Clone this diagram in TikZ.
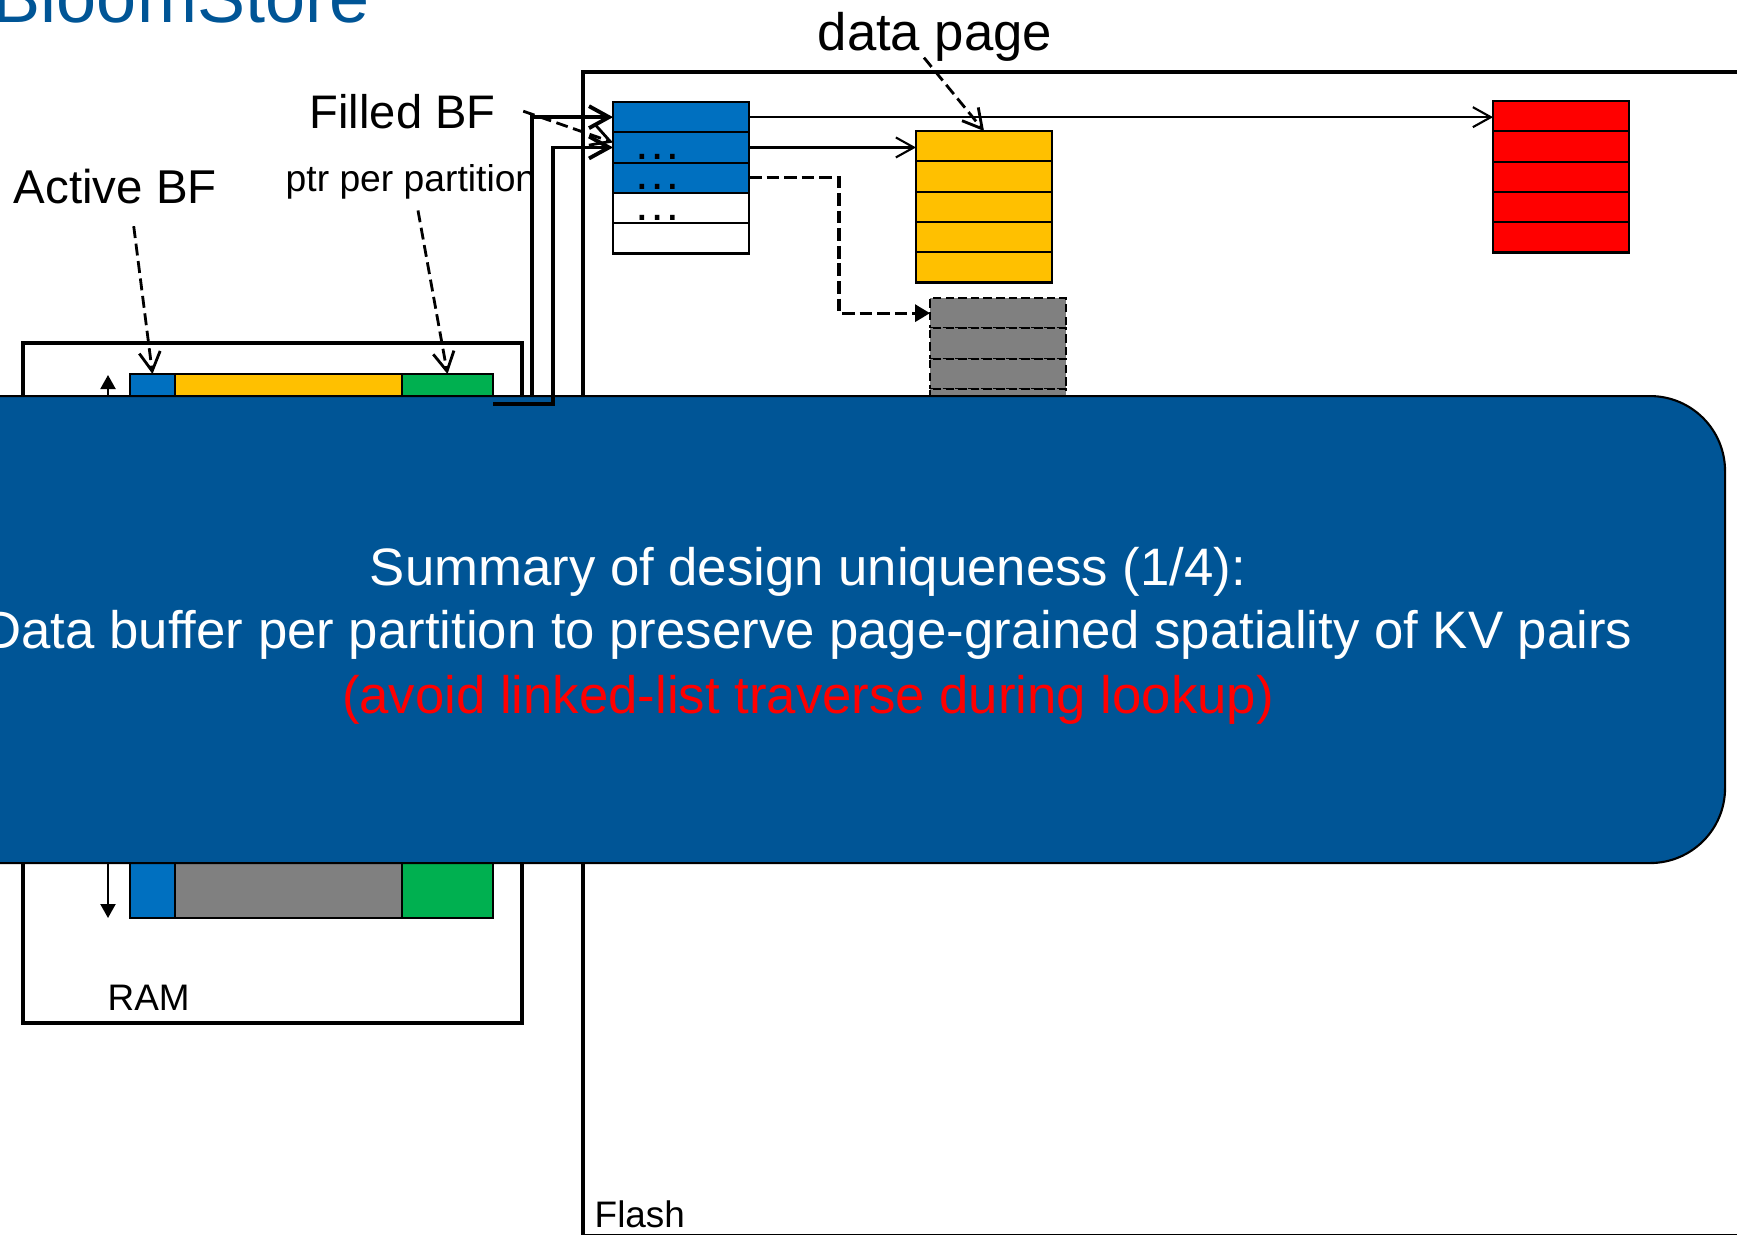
\documentclass[tikz,border=0pt]{standalone}
\usepackage{fontspec}
\setmainfont{Liberation Sans}
\usepackage{tikz}
\usetikzlibrary{
    arrows.meta,
    positioning,
    calc
}
\definecolor{IdxBlue}{RGB}{0,112,192}
\definecolor{PageYellow}{RGB}{255,192,0}
\definecolor{PtrGreen}{RGB}{0,176,80}
\definecolor{PageRed}{RGB}{255,0,0}
\definecolor{PageGray}{RGB}{128,128,128}
\definecolor{SlideBlue}{RGB}{0,85,150}
\tikzset{
  cell/.style    = {draw, line width=0.6pt, minimum width=13.6mm,
                    minimum height=3.03mm, inner sep=0pt, outer sep=0pt},
  dcell/.style   = {cell, fill=PageGray, dash pattern=on 2.4pt off 1.2pt},
  barcell/.style = {draw, line width=0.4pt, minimum height=6mm,
                    inner sep=0pt, outer sep=0pt},
  memline/.style = {line width=1.4pt},
  lbl/.style     = {anchor=base west, inner sep=0pt},
  ptr/.style     = {-{Straight Barb[length=2mm,width=2.2mm]}, line width=1.1pt},
  link/.style    = {-{Straight Barb[length=1.8mm,width=2mm]}, line width=0.6pt},
  note/.style    = {-{Straight Barb[length=1.9mm,width=2.1mm]}, line width=0.8pt,
                    dash pattern=on 3.4pt off 1.6pt}
}

\begin{document}
\begin{tikzpicture}[x=0.1mm, y=-0.1mm]
\useasboundingbox (0,0) rectangle (1737,1234);
\clip (0,0) rectangle (1737,1234);

% title
\node[lbl, anchor=base east, text=SlideBlue, font=\fontsize{20.5}{24}\selectfont]
    (title) at (370,22) {BloomStore};

% RAM side
\draw[memline] (23,343) rectangle (522,1023);
\node[lbl, font=\fontsize{10.5}{12}\selectfont] (ram) at (107,1010) {RAM};
\node[barcell, fill=IdxBlue, minimum width=4.5mm, anchor=north west] (actA) at (130,374) {};
\node[barcell, fill=PageYellow, minimum width=22.7mm, right=0pt of actA] (bufA) {};
\node[barcell, fill=PtrGreen, minimum width=9.1mm, right=0pt of bufA] (ptrA) {};
\node[barcell, fill=IdxBlue, minimum width=4.5mm, anchor=south west] (actB) at (130,918) {};
\node[barcell, fill=PageGray, minimum width=22.7mm, right=0pt of actB] (bufB) {};
\node[barcell, fill=PtrGreen, minimum width=9.1mm, right=0pt of bufB] (ptrB) {};
\coordinate (upTip) at (108,375);
\coordinate (dnTip) at (108,918);
\draw[{Triangle[length=1.4mm,width=1.5mm]}-{Triangle[length=1.4mm,width=1.5mm]}, line width=0.6pt]
    (upTip) -- (dnTip);

% labels
\node[lbl, font=\fontsize{13.5}{16}\selectfont] (active) at (13,203) {Active BF};
\node[lbl, font=\fontsize{13.4}{16}\selectfont] (filled) at (309,128) {Filled BF};
\node[lbl, font=\fontsize{10.6}{12}\selectfont] (perpart) at (285,191) {ptr per partition};
\node[lbl, font=\fontsize{15}{18}\selectfont] (datapage) at (817,50) {data page};

% flash side
\draw[memline] (1800,72) -- (583,72) -- (583,1236) -- (1800,1236);
\node[lbl, font=\fontsize{10.5}{12}\selectfont] (flash) at (594,1227) {Flash};

% index page
\node[cell, fill=IdxBlue, anchor=north west] (idx1) at (613,102) {};
\node[cell, fill=IdxBlue, below=0pt of idx1] (idx2) {};
\node[cell, fill=IdxBlue, below=0pt of idx2] (idx3) {};
\node[cell, fill=white, below=0pt of idx3] (idx4) {};
\node[cell, fill=white, below=0pt of idx4] (idx5) {};
\node[lbl, font=\fontsize{13.7}{16}\selectfont] (dots2) at ($(idx2.south west)+(20,-3)$) {…};
\node[lbl, font=\fontsize{13.7}{16}\selectfont] (dots3) at ($(idx3.south west)+(20,-3)$) {…};
\node[lbl, font=\fontsize{13.7}{16}\selectfont] (dots4) at ($(idx4.south west)+(20,-3)$) {…};

% data pages
\node[cell, fill=PageYellow, anchor=north west] (yel1) at (916,131) {};
\node[cell, fill=PageYellow, below=0pt of yel1] (yel2) {};
\node[cell, fill=PageYellow, below=0pt of yel2] (yel3) {};
\node[cell, fill=PageYellow, below=0pt of yel3] (yel4) {};
\node[cell, fill=PageYellow, below=0pt of yel4] (yel5) {};

\node[cell, fill=PageRed, anchor=north west] (red1) at (1493,101) {};
\node[cell, fill=PageRed, below=0pt of red1] (red2) {};
\node[cell, fill=PageRed, below=0pt of red2] (red3) {};
\node[cell, fill=PageRed, below=0pt of red3] (red4) {};
\node[cell, fill=PageRed, below=0pt of red4] (red5) {};

\node[dcell, anchor=north west] (gry1) at (930,298) {};
\node[dcell, below=0pt of gry1] (gry2) {};
\node[dcell, below=0pt of gry2] (gry3) {};
\node[dcell, below=0pt of gry3] (gry4) {};
\node[dcell, below=0pt of gry4] (gry5) {};

% pointers
\draw[link] (idx1.east) -- (idx1.east -| red1.west);
\draw[link] (idx2.east) -- (idx2.east -| yel1.west);
\draw[-{Triangle[length=1.5mm,width=1.7mm]}, line width=0.9pt, dash pattern=on 3.6pt off 1.4pt]
    (idx3.east) -- ++(90,0) |- (gry1.west);
\coordinate (ptrMid) at (532,600);
\draw[ptr] (ptrMid) |- (idx1.west);

\draw[note] ([xshift=1.85mm,yshift=-2.2mm]active.south) -- (actA.north);
\draw[note] ([xshift=0.7mm,yshift=-1.1mm]perpart.south) -- (ptrA.north);
\draw[note] ([xshift=-1.1mm,yshift=0.4mm]datapage.south) -- (yel1.north);
\draw[note] ([xshift=2.7mm]filled.east) -- ([yshift=0.5mm]idx2.west);

% summary
\node[draw, line width=0.6pt, fill=SlideBlue, rounded corners=7.5mm, minimum width=183.2mm,
      minimum height=46.7mm, anchor=north west] (panel) at (-108,395) {};
\node[anchor=base, text=white, font=\fontsize{15}{18}\selectfont]
    (sumA) at (808,585) {Summary of design uniqueness (1/4):};
\node[anchor=base, text=white, font=\fontsize{15}{18}\selectfont]
    (sumB) at (808,648) {Data buffer per partition to preserve page-grained spatiality of KV pairs};
\node[anchor=base, text=red, font=\fontsize{15}{18}\selectfont]
    (sumC) at (808,713) {(avoid linked-list traverse during lookup)};

\draw[ptr] (ptrA.east) -- ++(60,0) |- (idx2.west);
\end{tikzpicture}
\end{document}
